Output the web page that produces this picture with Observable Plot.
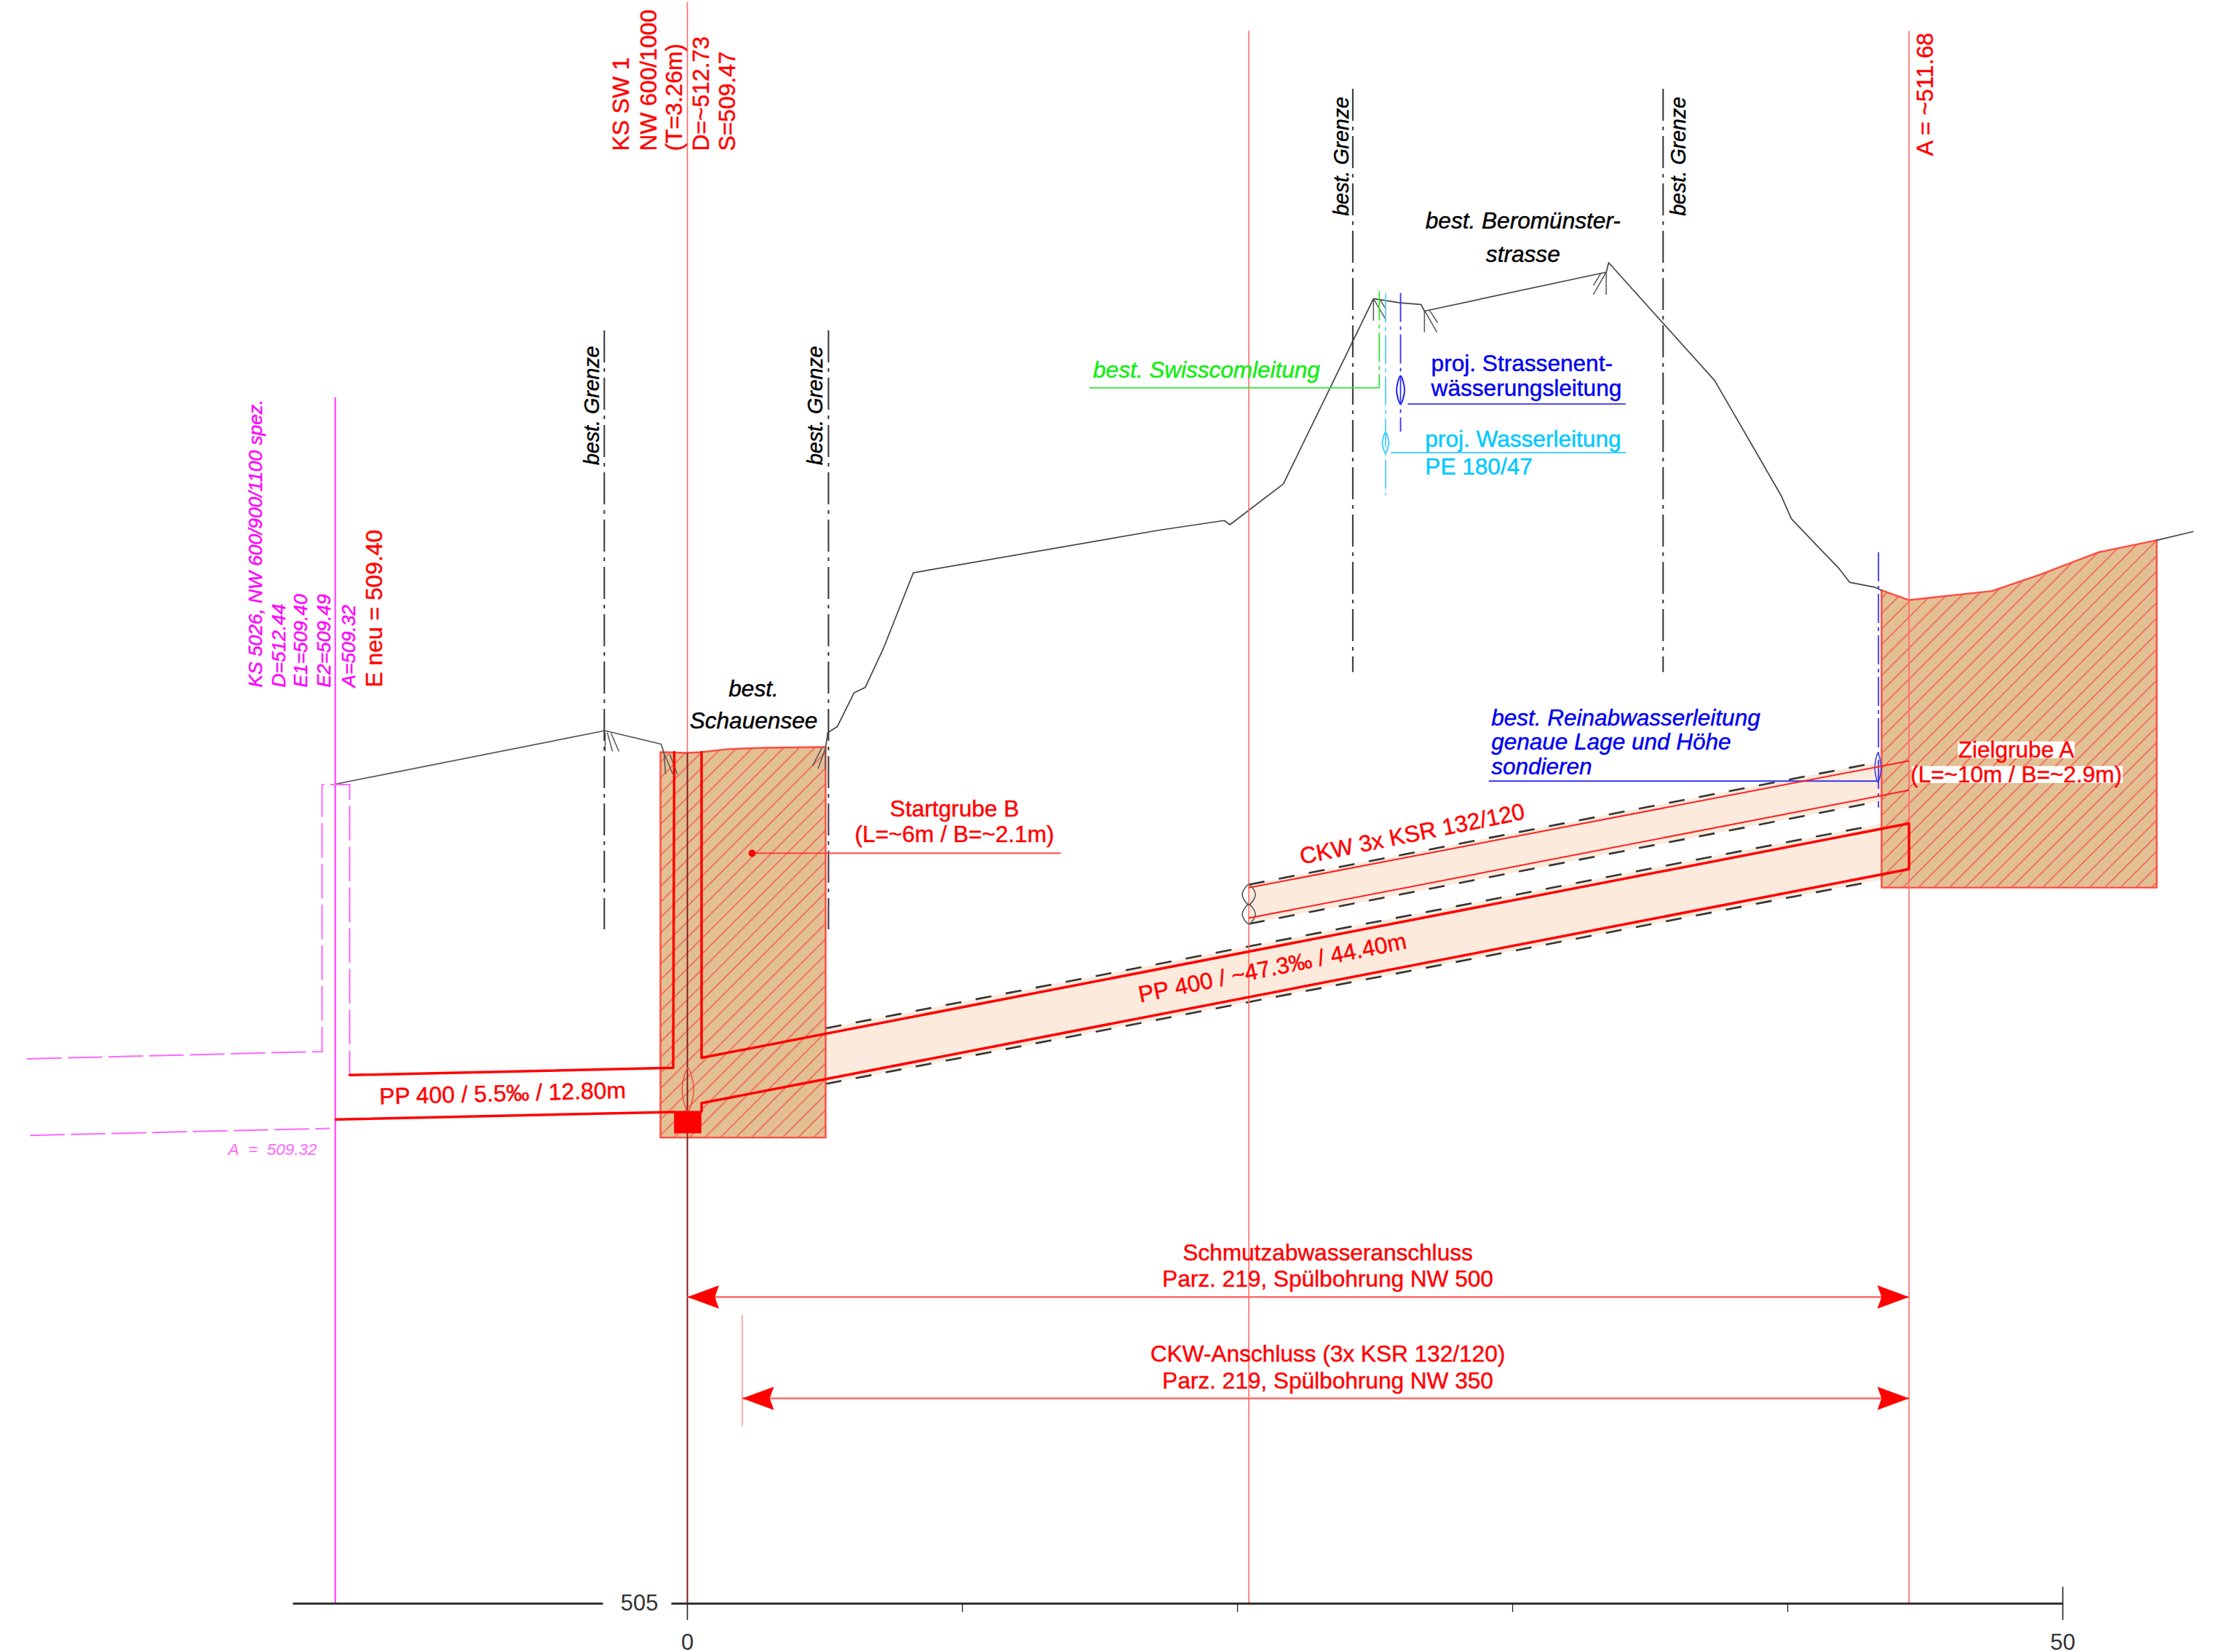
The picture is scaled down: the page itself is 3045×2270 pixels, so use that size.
<!DOCTYPE html>
<html lang="de">
<head>
<meta charset="utf-8">
<title>Längenprofil</title>
<script src="https://cdn.jsdelivr.net/npm/d3@7"></script>
<script src="https://cdn.jsdelivr.net/npm/@observablehq/plot@0.6"></script>
<style>html,body{margin:0;padding:0;background:#fff}svg{display:block}</style>
</head>
<body>
<div id="chart"></div>
<script>
// ---- Terrain (station m, elevation m.ü.M.) ----
const terrainWest = [[-12.80,512.447],[-3.00,512.933],[-0.952,512.811],[-0.847,512.725]];
const terrainEast = [[5.026,512.784],[5.106,512.917],[5.45,512.970],[6.058,513.277],[6.468,513.327],[7.143,513.690],[8.214,514.368],[17.153,514.755],[19.516,514.843],[19.722,514.805],[21.667,515.176],[24.942,516.859],[25.913,516.821],[26.667,516.806],[26.794,516.746],[33.402,517.100],[33.492,517.186],[37.344,516.115],[39.754,515.073],[40.132,514.858],[41.870,514.405],[42.249,514.282],[43.193,514.235],[43.413,514.208]];
const terrainFar = [[53.413,514.663],[54.735,514.742]];
// ---- Pits ----
const pitB = [[-0.979,512.738],[0,512.731],[0.503,512.738],[1.481,512.765],[2.804,512.778],[5.026,512.784],[5.026,509.235],[-0.979,509.235]];
const pitA = [[43.413,514.208],[44.41,514.12],[47.426,514.202],[49.10,514.345],[51.296,514.554],[53.413,514.663],[53.413,511.507],[43.413,511.507]];
// ---- Bore bands ----
const bandSewer = [[5.026,510.228],[43.413,512.087],[43.413,511.581],[5.026,509.722]];
const bandCkw = [[20.41,511.534],[43.413,512.653],[43.413,512.295],[20.41,511.177]];
// ---- Pipes ----
const pipeUpperLeft = [[-12.275,509.803],[-0.516,509.869],[-0.476,512.738]];
const pipeLowerLeft = [[-12.78,509.40],[-0.476,509.468]];
const pipeMain = [[0.516,512.738],[0.516,509.960],[44.41,512.090],[44.41,511.675],[0.516,509.548],[0.516,509.473]];
const shaftBlock = [[-0.484,509.477],[0.51,509.477],[0.51,509.274],[-0.484,509.274]];
const ckwWalls = [[20.41,511.506,44.41,512.659],[20.41,511.230,44.41,512.392]];
const boreDashes = [[5.026,510.228,43.148,512.073],[5.026,509.722,43.148,511.567],[20.41,511.534,43.148,512.640],[20.41,511.177,43.148,512.282]];
// ---- Existing manhole, magenta ----
const oldShaft = [[-23.987,509.951],[-13.28,510.017],[-13.28,512.444],[-12.275,512.444],[-12.275,509.803]];
const oldOutlet = [[-23.875,509.255],[-13.016,509.319]];
// ---- Vertical station lines: x, y1, y2 ----
const stationLight = [[0,519.55,505],[20.41,519.29,505],[44.41,519.29,505]];
const stationDark = [[0,512.73,505]];
const stationMagenta = [[-12.8,515.959,505]];
const boundaries = [[-3.02,516.567,511.124],[5.13,516.567,511.124],[24.19,518.763,513.462],[35.47,518.763,513.462]];
// ---- Utilities and leaders: x1,y1,x2,y2 ----
const greenLines = [[25.153,516.927,25.153,516.049]];
const greenLeader = [[14.614,516.049,25.153,516.049]];
const cyanLines = [[25.38,516.905,25.38,515.073]];
const cyanLeader = [[25.58,515.460,34.11,515.460]];
const blueLines = [[25.926,516.911,25.926,515.650],[43.30,514.554,43.30,512.235]];
const blueLeaders = [[26.188,515.902,34.11,515.902],[29.13,512.475,43.28,512.475]];
const startLeader = [[2.354,511.819,13.57,511.819]];
const startPoint = [[2.354,511.819]];
const roadHatches = [
  [-2.989,512.917,-2.989,512.745],[-2.91,512.917,-2.725,512.745],[-2.778,512.91,-2.487,512.745],
  [-0.847,512.725,-0.794,512.54],[-0.847,512.725,-0.529,512.54],[-0.635,512.718,-0.370,512.54],
  [4.894,512.778,4.55,512.613],[5.026,512.778,4.749,512.586],[5.026,512.778,5.013,512.586],
  [24.942,516.859,24.942,516.66],[24.942,516.859,25.397,516.666],[25.153,516.859,25.397,516.763],
  [26.794,516.753,26.794,516.554],[26.794,516.753,27.249,516.554],[26.976,516.753,27.275,516.64],
  [33.402,517.10,33.402,516.895],[33.402,517.10,32.931,516.895],[33.201,517.087,32.931,516.978]];
// ---- Ellipses as four-point outlines ----
const pipeSectionsGrey = [
  [[20.41,511.534],[20.648,511.444],[20.41,511.353],[20.172,511.444]],
  [[20.41,511.353],[20.648,511.265],[20.41,511.177],[20.172,511.265]]];
const sectionBlue = [[25.926,516.158],[26.071,516.029],[25.926,515.90],[25.781,516.029]];
const sectionCyan = [[25.38,515.643],[25.494,515.549],[25.38,515.455],[25.266,515.549]];
const sectionReina = [[43.28,512.728],[43.394,512.596],[43.28,512.464],[43.166,512.596]];
const sectionShaft = [[0.02,509.869],[0.232,509.671],[0.02,509.473],[-0.192,509.671]];
// ---- Dimension lines and arrowheads ----
const dimLines = [[0,507.786,44.41,507.786],[1.995,506.865,44.41,506.865]];
const dimStop = [[1.995,507.621,1.995,506.612]];
const arrowHeads = [
  [[0,507.786],[1.15,507.892],[1.0,507.786],[1.15,507.68]],
  [[44.41,507.786],[43.26,507.892],[43.41,507.786],[43.26,507.68]],
  [[1.995,506.865],[3.145,506.971],[2.995,506.865],[3.145,506.759]],
  [[44.41,506.865],[43.26,506.971],[43.41,506.865],[43.26,506.759]]];
// ---- Axis ----
const axisSegments = [[-14.339,505,-3.069,505],[-0.582,505,50,505]];
const axisEndTick = [[50,505,50,505.152]];
const majorTicks = [0,50];
const minorTicks = [10,20,30,40];
const elevationTicks = [505];
// ---- Labels: text, x, y ----
const labelsRedVertical = [["KS SW 1",-2.392,518.201],["NW 600/1000",-1.407,518.201],["(T=3.26m)",-0.463,518.201],["D=~512.73",0.503,518.201],["S=509.47",1.455,518.201],["E neu = 509.40",-11.376,513.327],["A = ~511.68",45.0,518.157]];
const labelsMagentaVertical = [["KS 5026, NW 600/900/1100 spez.",-15.688,513.327],["D=512.44",-14.849,513.327],["E1=509.40",-14.048,513.327],["E2=509.49",-13.19,513.327],["A=509.32",-12.312,513.327]];
const labelsBoundary = [["best. Grenze",-3.45,515.347],["best. Grenze",4.67,515.347],["best. Grenze",23.8,517.612],["best. Grenze",36.05,517.612]];
const labelsBlackCentered = [["best.",2.407,513.313],["Schauensee",2.407,513.022],["best. Beromünster-",30.378,517.566],["strasse",30.378,517.262]];
const labelGreen = [["best. Swisscomleitung",14.751,516.206]];
const labelsBlue = [["proj. Strassenent-",27.04,516.27],["wässerungsleitung",27.04,516.042]];
const labelsCyan = [["proj. Wasserleitung",26.82,515.579],["PE 180/47",26.82,515.328]];
const labelsBlueItalic = [["best. Reinabwasserleitung",29.225,513.049],["genaue Lage und Höhe",29.225,512.827],["sondieren",29.225,512.606]];
const labelsRedCentered = [["Startgrube B",9.709,512.222],["(L=~6m / B=~2.1m)",9.709,511.991],["Schmutzabwasseranschluss",23.28,508.183],["Parz. 219, Spülbohrung NW 500",23.28,507.948],["CKW-Anschluss (3x KSR 132/120)",23.28,507.264],["Parz. 219, Spülbohrung NW 350",23.28,507.024]];
const haloBoxes = [[46.2,512.679,50.44,512.832],[44.516,512.454,52.19,512.608]];
const labelsHalo = [["Zielgrube A",48.307,512.753],["(L=~10m / B=~2.9m)",48.307,512.531]];
const labelsSloped = [["CKW 3x KSR 132/120",26.349,511.991],["PP 400 / ~47.3‰ / 44.40m",21.27,510.775]];
const labelPipeLeft = [["PP 400 / 5.5‰ / 12.80m",-6.72,509.633]];
const labelOutlet = [["A\u00a0\u00a0=\u00a0\u00a0509.32",-15.08,509.127]];

const seg = {x1:d=>d[0],y1:d=>d[1],x2:d=>d[2],y2:d=>d[3]};
const vert = {x:d=>d[0],y1:d=>d[1],y2:d=>d[2]};
const lab = {x:d=>d[1],y:d=>d[2],text:d=>d[0]};
const closed = "linear-closed";
const font = "Liberation Sans, Arial, sans-serif";
const ring = (pts,o) => Plot.line(pts,{curve:"cardinal-closed",tension:0,fill:"none",...o});
const RED="#ff0000", MAG="#ff00ff", BLUE="#0000f0", GREEN="#10ee10", CYAN="#00c8ff";
const heavy = c => ({fill:c,stroke:c,strokeWidth:0.45});

const chart = Plot.plot({
  width:3045, height:2270,
  marginTop:0, marginRight:0, marginBottom:67, marginLeft:0,
  x:{domain:[-24.974,55.582], label:null},
  y:{domain:[505,519.570], label:null},
  style:{fontFamily:font, background:"#fff", overflow:"visible"},
  marks:[
    // bands below the pits
    Plot.line(bandSewer,{curve:closed,fill:"#fcebdd",stroke:"none"}),
    Plot.line(bandCkw,{curve:closed,fill:"#fcebdd",stroke:"none"}),
    Plot.link(boreDashes,{...seg,stroke:"#333",strokeWidth:2.6,strokeDasharray:"22,20"}),
    // pits
    Plot.line(pitB,{curve:closed,fill:"url(#hatch)",stroke:"#ff4a40",strokeWidth:2.4}),
    Plot.line(pitA,{curve:closed,fill:"url(#hatch)",stroke:"#ff4a40",strokeWidth:2.4}),
    // terrain
    Plot.line(terrainWest,{stroke:"#555",strokeWidth:1.7}),
    Plot.line(terrainEast,{stroke:"#444",strokeWidth:1.7}),
    Plot.line(terrainFar,{stroke:"#444",strokeWidth:1.7}),
    Plot.link(roadHatches,{...seg,stroke:"#555",strokeWidth:1.5}),
    // station lines
    Plot.ruleX(stationLight,{...vert,stroke:"#ff6a6a",strokeWidth:1.6}),
    Plot.ruleX(stationDark,{...vert,stroke:"#7a1c1c",strokeWidth:1.8}),
    Plot.ruleX(stationMagenta,{...vert,stroke:"#ff33ff",strokeWidth:2}),
    Plot.ruleX(boundaries,{...vert,stroke:"#333",strokeWidth:2,strokeDasharray:"44,8,5,8"}),
    // existing manhole
    Plot.line(oldShaft,{stroke:"#ff66ff",strokeWidth:2,strokeDasharray:"46,10"}),
    Plot.line(oldOutlet,{stroke:"#ff66ff",strokeWidth:2,strokeDasharray:"46,10"}),
    // utilities
    Plot.link(greenLines,{...seg,stroke:"#35e635",strokeWidth:1.8,strokeDasharray:"40,6,5,6"}),
    Plot.link(greenLeader,{...seg,stroke:"#35e635",strokeWidth:1.8}),
    Plot.link(cyanLines,{...seg,stroke:"#55ccff",strokeWidth:1.8,strokeDasharray:"40,6,5,6"}),
    Plot.link(cyanLeader,{...seg,stroke:"#55ccff",strokeWidth:2}),
    Plot.link(blueLines,{...seg,stroke:"#3333ee",strokeWidth:1.8,strokeDasharray:"40,6,5,6"}),
    Plot.link(blueLeaders,{...seg,stroke:"#3333ee",strokeWidth:1.8}),
    ...pipeSectionsGrey.map(p=>ring(p,{stroke:"#555",strokeWidth:1.6})),
    ring(sectionBlue,{stroke:"#2222ee",strokeWidth:2}),
    ring(sectionCyan,{stroke:"#33ccff",strokeWidth:1.8}),
    ring(sectionReina,{stroke:"#3333ee",strokeWidth:1.5}),
    ring(sectionShaft,{stroke:"#f05040",strokeWidth:1.5}),
    // pipes
    Plot.link(ckwWalls,{...seg,stroke:"#ff2020",strokeWidth:2}),
    Plot.line(pipeUpperLeft,{stroke:RED,strokeWidth:3.5}),
    Plot.line(pipeLowerLeft,{stroke:RED,strokeWidth:3.5}),
    Plot.line(pipeMain,{stroke:RED,strokeWidth:3.5}),
    Plot.line(shaftBlock,{curve:closed,fill:RED,stroke:"none"}),
    // leader and dimensions
    Plot.link(startLeader,{...seg,stroke:"#ff3030",strokeWidth:1.8}),
    Plot.dot(startPoint,{r:5,fill:RED,stroke:"none"}),
    Plot.link(dimLines,{...seg,stroke:"#ff6a6a",strokeWidth:2.4}),
    Plot.link(dimStop,{...seg,stroke:"#ff9090",strokeWidth:1.5}),
    ...arrowHeads.map(a=>Plot.line(a,{curve:closed,fill:RED,stroke:"none"})),
    // axis
    Plot.link(axisSegments,{...seg,stroke:"#333",strokeWidth:3}),
    Plot.link(axisEndTick,{...seg,stroke:"#222",strokeWidth:1.6}),
    Plot.axisX(majorTicks,{tickSize:23,tickPadding:18,fontSize:31,stroke:"#222",strokeWidth:1.6,fill:"#333",label:null}),
    Plot.axisX(minorTicks,{tickSize:12,tickFormat:()=>"",stroke:"#222",strokeWidth:1.3,label:null}),
    Plot.axisY(elevationTicks,{tickSize:0,tickPadding:0,dx:904,fontSize:31,fill:"#333",textAnchor:"end",label:null,tickFormat:"d"}),
    // labels
    Plot.text(labelsRedVertical,{...lab,rotate:-90,textAnchor:"start",lineAnchor:"middle",fontSize:31.8,...heavy(RED)}),
    Plot.text(labelsMagentaVertical,{...lab,rotate:-90,textAnchor:"start",lineAnchor:"middle",fontSize:26.3,fontStyle:"italic",...heavy(MAG)}),
    Plot.text(labelsBoundary,{...lab,rotate:-90,textAnchor:"start",lineAnchor:"middle",fontSize:28.6,fontStyle:"italic",...heavy("#000")}),
    Plot.text(labelsBlackCentered,{...lab,lineAnchor:"middle",fontSize:31.6,fontStyle:"italic",...heavy("#000")}),
    Plot.text(labelGreen,{...lab,textAnchor:"start",lineAnchor:"middle",fontSize:31.5,fontStyle:"italic",...heavy(GREEN)}),
    Plot.text(labelsBlue,{...lab,textAnchor:"start",lineAnchor:"middle",fontSize:31.6,...heavy(BLUE)}),
    Plot.text(labelsCyan,{...lab,textAnchor:"start",lineAnchor:"middle",fontSize:31.6,...heavy(CYAN)}),
    Plot.text(labelsBlueItalic,{...lab,textAnchor:"start",lineAnchor:"middle",fontSize:31.5,fontStyle:"italic",...heavy(BLUE)}),
    Plot.text(labelsRedCentered,{...lab,lineAnchor:"middle",fontSize:31.6,...heavy(RED)}),
    Plot.rect(haloBoxes,{x1:d=>d[0],y1:d=>d[1],x2:d=>d[2],y2:d=>d[3],fill:"#fff",stroke:"none"}),
    Plot.text(labelsHalo,{...lab,lineAnchor:"middle",fontSize:31.5,...heavy(RED)}),
    Plot.text(labelsSloped,{...lab,rotate:-11.5,lineAnchor:"middle",fontSize:31.8,...heavy(RED)}),
    Plot.text(labelPipeLeft,{...lab,rotate:-1.5,lineAnchor:"middle",fontSize:31.8,...heavy(RED)}),
    Plot.text(labelOutlet,{...lab,lineAnchor:"middle",fontSize:22.5,fontStyle:"italic",fill:"#ff66ff"})
  ]
});

const pattern = d3.select(chart).insert("defs",":first-child").append("pattern")
  .attr("id","hatch").attr("patternUnits","userSpaceOnUse")
  .attr("width",15.1).attr("height",15.1).attr("patternTransform","rotate(45)");
pattern.append("rect").attr("width",15.1).attr("height",15.1).attr("fill","#e3bf94");
pattern.append("line").attr("x1",7.55).attr("x2",7.55).attr("y1",0).attr("y2",15.1)
  .attr("stroke","#f2473a").attr("stroke-width",1.2);

document.getElementById("chart").appendChild(chart);
</script>
</body>
</html>
